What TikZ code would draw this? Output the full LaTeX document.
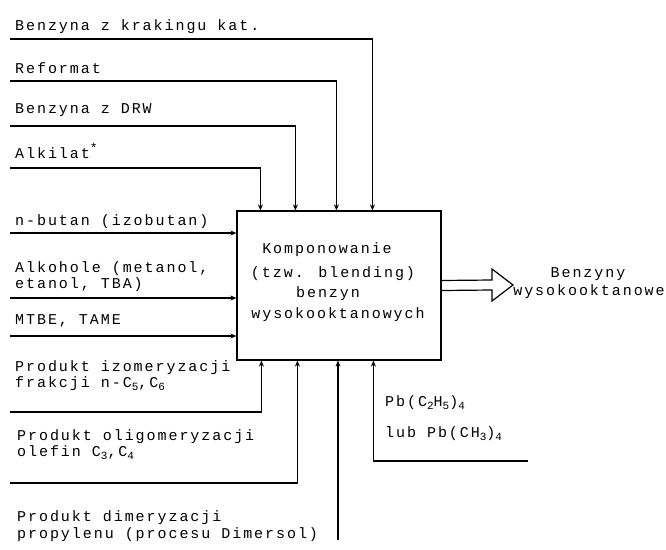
\documentclass[tikz,border=0pt]{standalone}
\usepackage{fontspec}
\newfontfamily\dm{Liberation Mono}[LetterSpace=13.0]
\usetikzlibrary{arrows.meta}
\newcommand\sbs[1]{\raisebox{-0.45ex}{\fontsize{11}{11}\selectfont #1}}
\newcommand\sps[1]{\raisebox{0.7ex}{\fontsize{13}{13}\selectfont #1}}
\tikzset{
  lbl/.style={anchor=base west, inner sep=0pt, font=\dm\fontsize{15}{15}\selectfont},
  ctr/.style={anchor=base, inner sep=0pt, font=\dm\fontsize{15}{15}\selectfont},
  conn/.style={line width=1.2pt, -{Stealth[length=6pt,width=5pt]}},
}
\begin{document}
\begin{tikzpicture}[x=1pt,y=-1pt]
\useasboundingbox (0,0) rectangle (666,549);
% central box
\node[draw, line width=1.2pt, minimum width=204pt, minimum height=149pt, inner sep=0pt] (box) at (339,285.5) {};
\node[ctr] (k1) at (327,253) {Komponowanie};
\node[ctr] (k2) at (333,277) {(tzw. blending)};
\node[ctr] (k3) at (328,297) {benzyn};
\node[ctr] (k4) at (338,318) {wysokooktanowych};
% labels
\node[lbl] (lK) at (15,30) {Benzyna z krakingu kat.};
\node[lbl] (lR) at (15,73) {Reformat};
\node[lbl] (lD) at (15,113) {Benzyna z DRW};
\node[lbl] (lA) at (15,158) {Alkilat\sps{*}};
\node[lbl] (lB) at (15,225) {n-butan (izobutan)};
\node[lbl] (lAl1) at (15,272) {Alkohole (metanol,};
\node[lbl] (lAl2) at (15,288) {etanol, TBA)};
\node[lbl] (lM) at (15,324) {MTBE, TAME};
\node[lbl] (lI1) at (15,371) {Produkt izomeryzacji};
\node[lbl] (lI2) at (15,387) {frakcji n-C\sbs{5},C\sbs{6}};
\node[lbl] (lO1) at (17,440) {Produkt oligomeryzacji};
\node[lbl] (lO2) at (17,456) {olefin C\sbs{3},C\sbs{4}};
\node[lbl] (lDm1) at (17,521) {Produkt dimeryzacji};
\node[lbl] (lDm2) at (17,538) {propylenu (procesu Dimersol)};
\node[lbl] (lP1) at (385,406) {Pb(C\sbs{2}H\sbs{5})\sbs{4}};
\node[lbl] (lP2) at (385,437) {lub Pb(CH\sbs{3})\sbs{4}};
\node[ctr] (oB) at (588,277) {Benzyny};
\node[ctr] (oW) at (589,295) {wysokooktanowe};
% start points
\coordinate (sK) at (10,39);
\coordinate (sR) at (10,81);
\coordinate (sD) at (10,126);
\coordinate (sA) at (10,168);
\coordinate (sB) at (10,233);
\coordinate (sAl) at (10,298);
\coordinate (sM) at (10,336);
\coordinate (sI) at (10,412);
\coordinate (sO) at (10,483);
\coordinate (sDm) at (338,540);
\coordinate (sP) at (528,461);
% top inputs
\draw[conn] (sK) -| ([xshift=136pt]box.north west);
\draw[conn] (sR) -| ([xshift=100pt]box.north west);
\draw[conn] (sD) -| ([xshift=59pt]box.north west);
\draw[conn] (sA) -| ([xshift=24pt]box.north west);
% left inputs
\draw[conn] (sB) -- (box.west |- sB);
\draw[conn] (sAl) -- (box.west |- sAl);
\draw[conn] (sM) -- (box.west |- sM);
% bottom inputs
\draw[conn] (sI) -| ([xshift=25pt]box.south west);
\draw[conn] (sO) -| ([xshift=61pt]box.south west);
\draw[conn] (sDm) -- (sDm |- box.south);
\draw[conn] (sP) -| ([xshift=137pt]box.south west);
% output arrow
\coordinate (oTip) at (513,285);
\draw[line width=1.2pt, line join=miter] ([yshift=5pt]box.east) -- (492,280) -- (492,269) -- (oTip) -- (492,301) -- (492,290) -- ([yshift=-5pt]box.east);
\end{tikzpicture}
\end{document}
